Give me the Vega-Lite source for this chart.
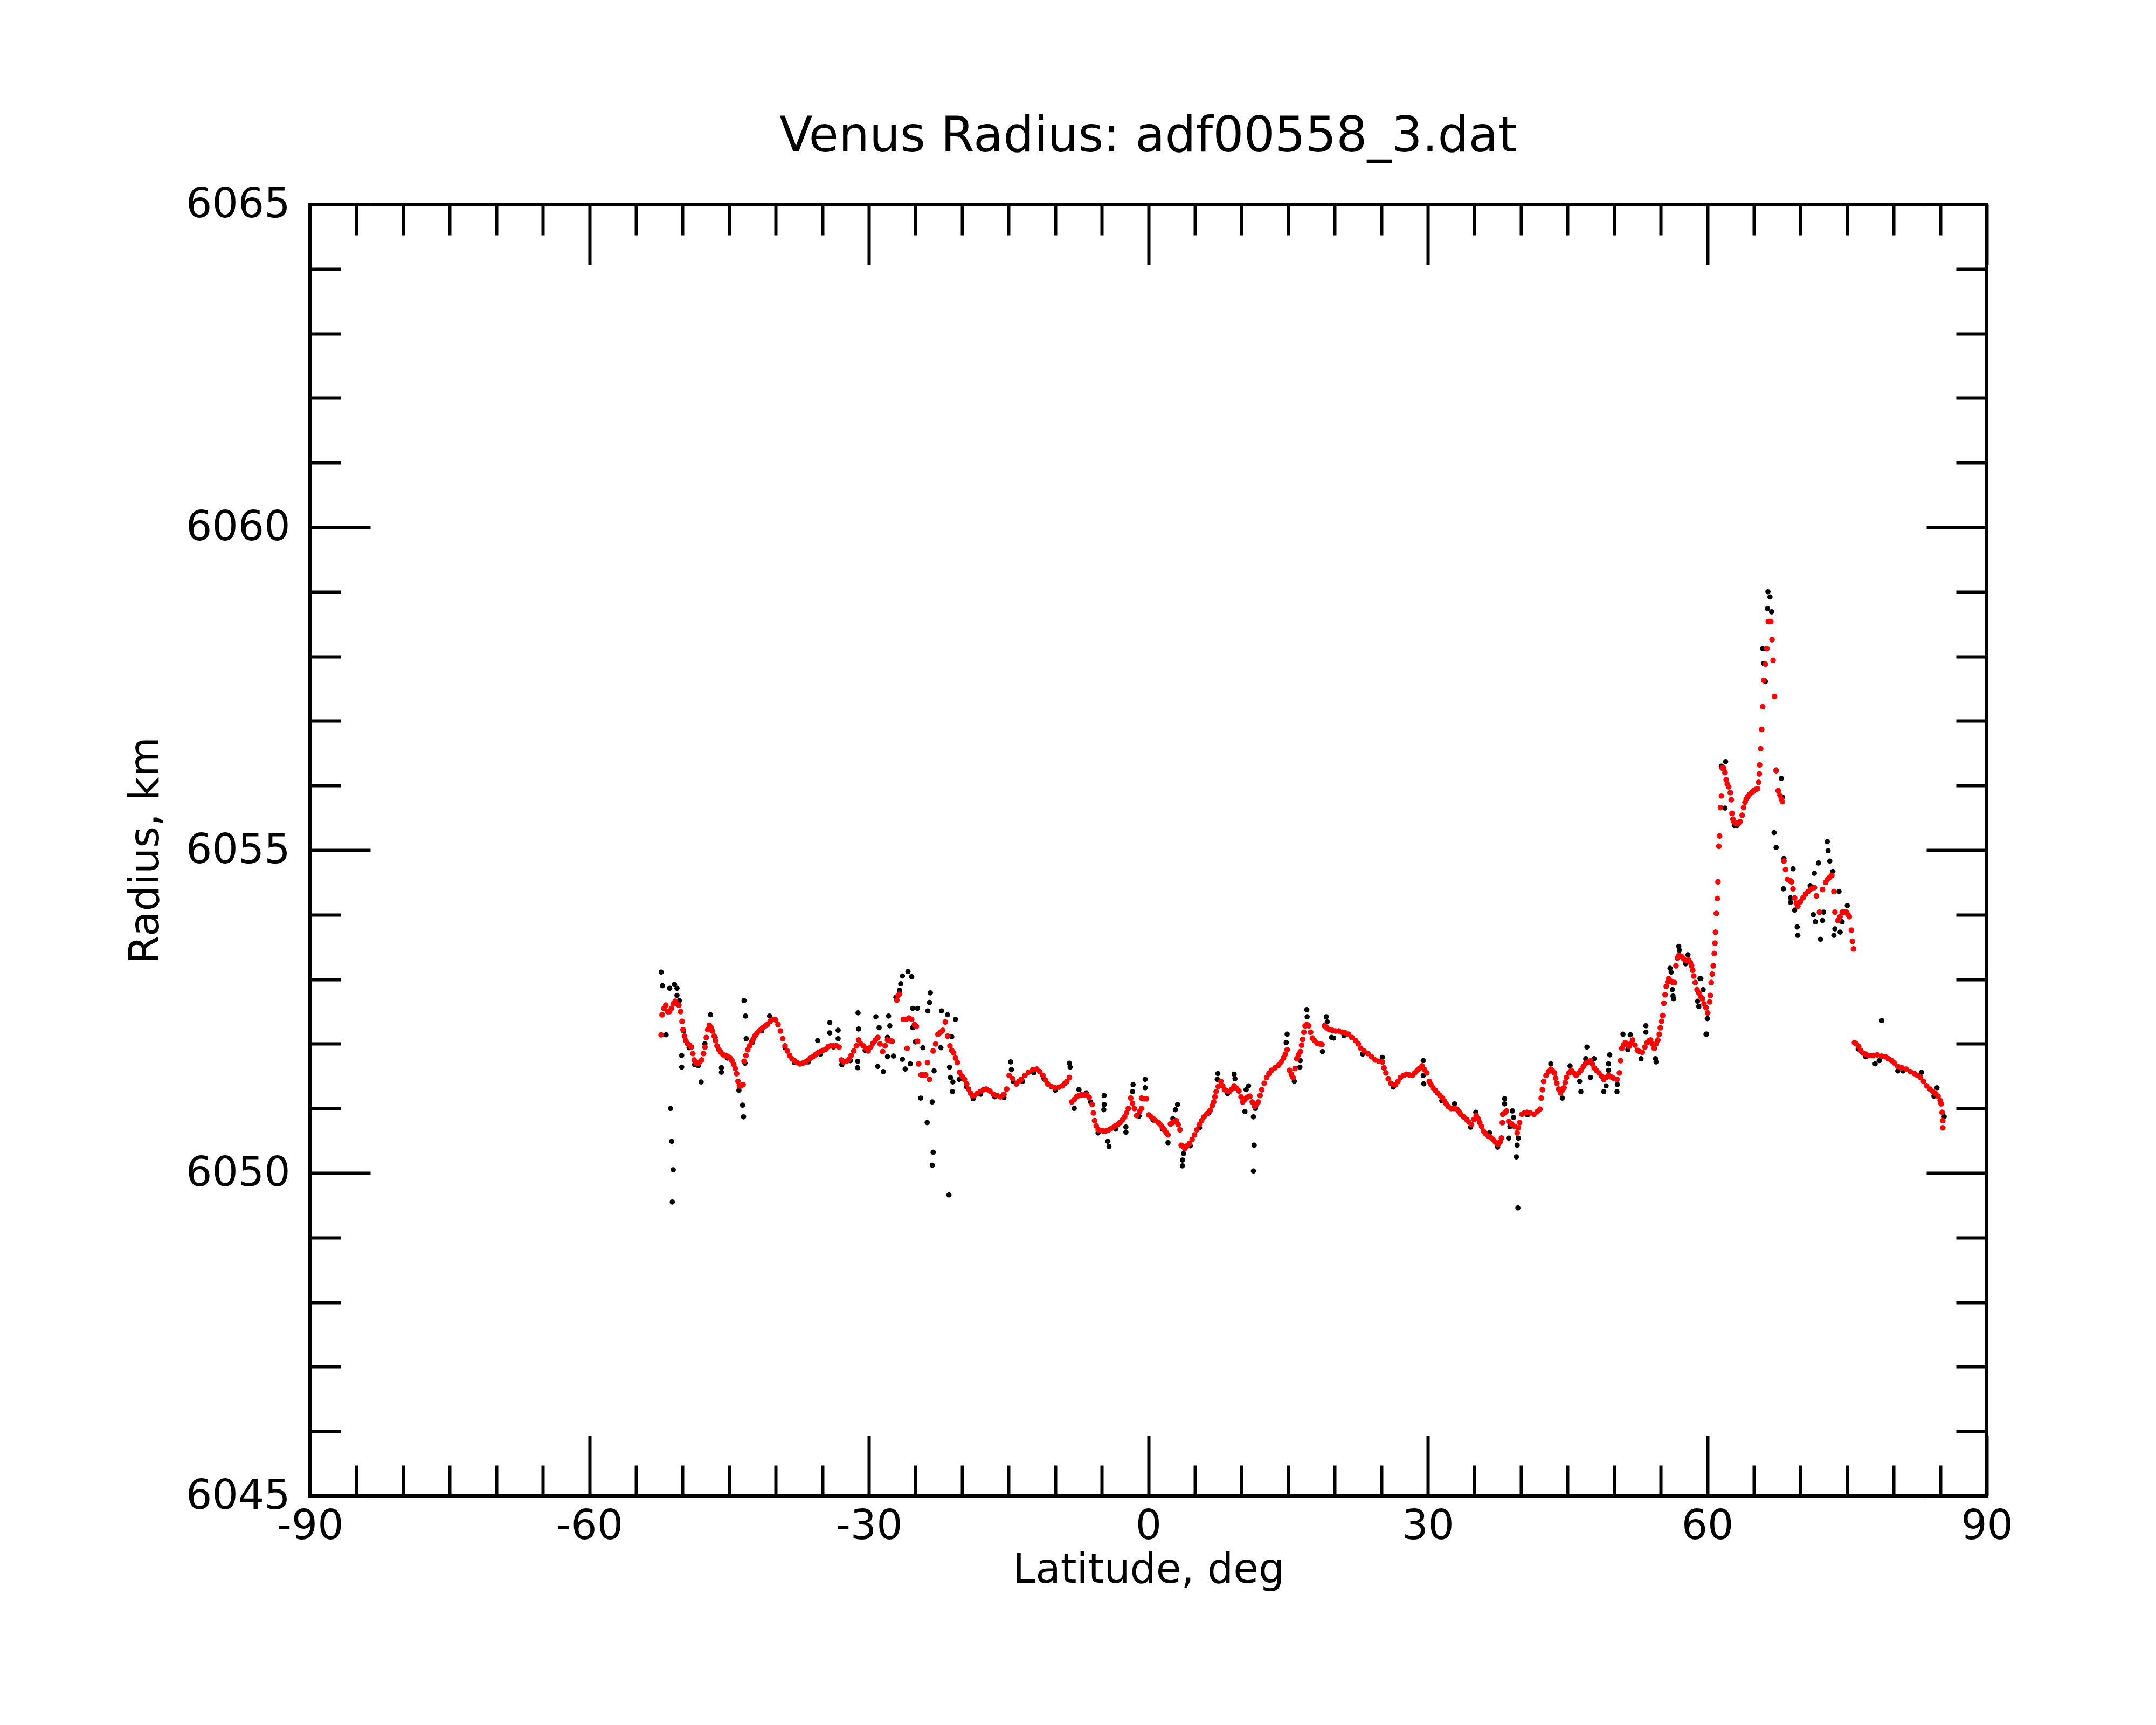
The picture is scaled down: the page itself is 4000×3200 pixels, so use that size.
{
  "$schema": "https://vega.github.io/schema/vega-lite/v6.json",
  "width": 3111,
  "height": 2396,
  "autosize": {"type": "none"},
  "padding": {"left": 575, "top": 379, "right": 314, "bottom": 425},
  "background": "white",
  "title": {
    "text": "Venus Radius: adf00558_3.dat",
    "fontSize": 90,
    "fontWeight": "normal",
    "color": "black",
    "frame": "group",
    "anchor": "middle",
    "baseline": "alphabetic",
    "offset": -30
  },
  "datasets": {
    "raw": [
      {"lat":-52.29,"r":6053.11},{"lat":-52.16,"r":6052.9},{"lat":-51.77,"r":6052.14},{"lat":-51.38,"r":6052.86},
      {"lat":-51.3,"r":6051.0},{"lat":-51.17,"r":6050.49},{"lat":-51.0,"r":6050.05},{"lat":-51.1,"r":6049.55},
      {"lat":-50.87,"r":6052.92},{"lat":-50.6,"r":6052.86},{"lat":-50.6,"r":6052.75},{"lat":-50.35,"r":6052.67},
      {"lat":-50.09,"r":6051.82},{"lat":-50.09,"r":6051.64},{"lat":-49.9,"r":6052.2},{"lat":-49.3,"r":6051.94},
      {"lat":-48.7,"r":6051.68},{"lat":-48.3,"r":6051.66},{"lat":-48.0,"r":6051.41},{"lat":-47.6,"r":6052.0},
      {"lat":-47.0,"r":6052.45},{"lat":-46.5,"r":6052.1},{"lat":-45.83,"r":6051.63},{"lat":-45.83,"r":6051.56},
      {"lat":-45.2,"r":6051.78},{"lat":-43.95,"r":6051.28},{"lat":-43.56,"r":6051.05},{"lat":-43.45,"r":6050.87},
      {"lat":-43.4,"r":6052.67},{"lat":-43.25,"r":6052.43},{"lat":-43.17,"r":6052.08},{"lat":-43.3,"r":6051.7},
      {"lat":-42.5,"r":6052.02},{"lat":-41.5,"r":6052.2},{"lat":-40.66,"r":6052.43},{"lat":-39.0,"r":6051.94},
      {"lat":-38.0,"r":6051.71},{"lat":-36.5,"r":6051.72},{"lat":-35.5,"r":6052.05},{"lat":-35.2,"r":6051.84},
      {"lat":-34.2,"r":6052.33},{"lat":-34.2,"r":6052.17},{"lat":-33.8,"r":6051.95},{"lat":-33.3,"r":6052.21},
      {"lat":-33.3,"r":6052.08},{"lat":-32.9,"r":6051.68},{"lat":-32.0,"r":6051.74},{"lat":-31.16,"r":6052.48},
      {"lat":-31.1,"r":6052.23},{"lat":-31.2,"r":6051.73},{"lat":-31.2,"r":6051.63},{"lat":-30.4,"r":6051.9},
      {"lat":-29.25,"r":6052.42},{"lat":-28.9,"r":6052.25},{"lat":-29.04,"r":6051.65},{"lat":-28.45,"r":6051.57},
      {"lat":-28.0,"r":6052.1},{"lat":-27.88,"r":6052.43},{"lat":-27.75,"r":6052.28},{"lat":-27.36,"r":6051.81},
      {"lat":-28.0,"r":6051.8},{"lat":-27.1,"r":6052.72},{"lat":-26.4,"r":6053.05},{"lat":-25.8,"r":6053.12},
      {"lat":-25.4,"r":6053.04},{"lat":-26.58,"r":6052.93},{"lat":-26.7,"r":6052.83},{"lat":-25.3,"r":6052.55},
      {"lat":-24.78,"r":6052.55},{"lat":-25.3,"r":6052.25},{"lat":-25.0,"r":6052.03},{"lat":-26.4,"r":6051.76},
      {"lat":-26.1,"r":6051.61},{"lat":-25.55,"r":6051.69},{"lat":-24.2,"r":6051.94},{"lat":-24.44,"r":6051.16},
      {"lat":-23.74,"r":6050.78},{"lat":-23.2,"r":6051.1},{"lat":-23.1,"r":6050.32},{"lat":-23.2,"r":6050.12},
      {"lat":-23.4,"r":6052.79},{"lat":-23.49,"r":6052.64},{"lat":-23.67,"r":6052.51},{"lat":-23.0,"r":6051.58},
      {"lat":-22.2,"r":6052.51},{"lat":-21.55,"r":6052.45},{"lat":-20.7,"r":6052.38},{"lat":-21.1,"r":6052.11},
      {"lat":-22.27,"r":6051.94},{"lat":-21.34,"r":6051.64},{"lat":-21.24,"r":6051.48},{"lat":-20.98,"r":6051.41},
      {"lat":-21.03,"r":6051.26},{"lat":-21.4,"r":6049.66},{"lat":-20.3,"r":6051.45},{"lat":-19.5,"r":6051.33},
      {"lat":-18.8,"r":6051.15},{"lat":-18.0,"r":6051.22},{"lat":-16.5,"r":6051.18},{"lat":-15.5,"r":6051.17},
      {"lat":-14.78,"r":6051.72},{"lat":-14.7,"r":6051.6},{"lat":-14.5,"r":6051.42},{"lat":-13.5,"r":6051.42},
      {"lat":-12.3,"r":6051.55},{"lat":-11.2,"r":6051.46},{"lat":-10.0,"r":6051.28},{"lat":-8.48,"r":6051.7},
      {"lat":-8.4,"r":6051.64},{"lat":-7.96,"r":6051.0},{"lat":-7.45,"r":6051.29},{"lat":-6.67,"r":6051.24},
      {"lat":-6.2,"r":6051.1},{"lat":-5.4,"r":6050.62},{"lat":-4.74,"r":6051.2},{"lat":-4.74,"r":6051.06},
      {"lat":-4.78,"r":6050.98},{"lat":-4.35,"r":6050.49},{"lat":-4.22,"r":6050.41},{"lat":-3.5,"r":6050.68},
      {"lat":-2.41,"r":6050.71},{"lat":-2.41,"r":6050.63},{"lat":-1.64,"r":6051.37},{"lat":-1.7,"r":6051.26},
      {"lat":-0.34,"r":6051.45},{"lat":-0.34,"r":6051.32},{"lat":-1.0,"r":6050.88},{"lat":0.5,"r":6050.82},
      {"lat":1.5,"r":6050.68},{"lat":2.11,"r":6050.47},{"lat":2.63,"r":6050.84},{"lat":3.14,"r":6051.06},
      {"lat":2.9,"r":6050.98},{"lat":3.79,"r":6050.3},{"lat":3.66,"r":6050.2},{"lat":3.66,"r":6050.11},
      {"lat":4.5,"r":6050.42},{"lat":5.5,"r":6050.7},{"lat":6.5,"r":6050.93},{"lat":7.46,"r":6051.54},
      {"lat":7.4,"r":6051.45},{"lat":8.5,"r":6051.23},{"lat":9.21,"r":6051.53},{"lat":9.3,"r":6051.46},
      {"lat":10.5,"r":6051.29},{"lat":10.76,"r":6051.35},{"lat":10.37,"r":6050.95},{"lat":11.28,"r":6050.87},
      {"lat":11.36,"r":6050.43},{"lat":11.28,"r":6050.03},{"lat":11.5,"r":6051.0},{"lat":13.0,"r":6051.55},
      {"lat":14.9,"r":6052.15},{"lat":14.8,"r":6052.02},{"lat":15.67,"r":6051.42},{"lat":16.27,"r":6051.64},
      {"lat":16.3,"r":6051.74},{"lat":17.01,"r":6052.53},{"lat":17.05,"r":6052.42},{"lat":19.1,"r":6052.42},
      {"lat":19.2,"r":6052.34},{"lat":18.69,"r":6051.88},{"lat":19.67,"r":6052.1},{"lat":19.9,"r":6052.09},
      {"lat":21.0,"r":6052.13},{"lat":23.0,"r":6051.84},{"lat":25.12,"r":6051.79},{"lat":26.3,"r":6051.33},
      {"lat":29.51,"r":6051.74},{"lat":29.51,"r":6051.51},{"lat":29.57,"r":6051.38},{"lat":31.5,"r":6051.12},
      {"lat":32.87,"r":6051.07},{"lat":34.6,"r":6050.71},{"lat":35.15,"r":6050.94},{"lat":36.62,"r":6050.62},
      {"lat":37.5,"r":6050.4},{"lat":38.24,"r":6051.15},{"lat":38.24,"r":6051.07},{"lat":39.07,"r":6050.96},
      {"lat":39.2,"r":6050.86},{"lat":38.68,"r":6050.54},{"lat":38.81,"r":6050.72},{"lat":39.72,"r":6050.54},
      {"lat":39.59,"r":6050.43},{"lat":39.51,"r":6050.25},{"lat":39.67,"r":6049.46},{"lat":40.7,"r":6050.9},
      {"lat":43.2,"r":6051.69},{"lat":44.44,"r":6051.16},{"lat":45.27,"r":6051.66},{"lat":46.3,"r":6051.42},
      {"lat":46.43,"r":6051.26},{"lat":47.08,"r":6051.95},{"lat":46.95,"r":6051.77},{"lat":47.47,"r":6051.48},
      {"lat":47.85,"r":6051.77},{"lat":48.89,"r":6051.26},{"lat":49.14,"r":6051.35},{"lat":49.53,"r":6051.83},
      {"lat":49.4,"r":6051.69},{"lat":49.4,"r":6051.59},{"lat":50.31,"r":6051.26},{"lat":50.35,"r":6051.37},
      {"lat":50.95,"r":6052.15},{"lat":51.73,"r":6052.14},{"lat":53.41,"r":6052.28},{"lat":53.41,"r":6052.18},
      {"lat":51.47,"r":6051.91},{"lat":52.89,"r":6051.77},{"lat":54.44,"r":6051.77},{"lat":54.5,"r":6051.72},
      {"lat":56.12,"r":6053.11},{"lat":56.0,"r":6053.17},{"lat":56.25,"r":6052.84},{"lat":56.38,"r":6052.7},
      {"lat":56.32,"r":6052.74},{"lat":56.94,"r":6053.51},{"lat":57.93,"r":6053.38},{"lat":57.67,"r":6053.24},
      {"lat":57.0,"r":6053.45},{"lat":59.22,"r":6053.01},{"lat":59.56,"r":6052.84},{"lat":58.96,"r":6052.66},
      {"lat":59.09,"r":6052.58},{"lat":59.31,"r":6053.01},{"lat":60.0,"r":6052.39},{"lat":59.86,"r":6052.15},
      {"lat":59.93,"r":6052.15},{"lat":61.52,"r":6056.3},{"lat":61.97,"r":6056.37},{"lat":61.9,"r":6055.65},
      {"lat":62.9,"r":6055.38},{"lat":63.2,"r":6055.38},{"lat":65.95,"r":6058.12},{"lat":66.51,"r":6059.0},
      {"lat":66.73,"r":6058.92},{"lat":66.46,"r":6058.74},{"lat":66.9,"r":6058.69},{"lat":66.06,"r":6057.89},
      {"lat":66.24,"r":6057.61},{"lat":67.39,"r":6056.24},{"lat":67.95,"r":6056.11},{"lat":68.06,"r":6055.82},
      {"lat":67.17,"r":6055.27},{"lat":67.39,"r":6055.04},{"lat":68.23,"r":6054.87},{"lat":69.21,"r":6054.71},
      {"lat":68.17,"r":6054.4},{"lat":68.94,"r":6054.26},{"lat":68.94,"r":6054.19},{"lat":69.38,"r":6054.07},
      {"lat":69.65,"r":6053.81},{"lat":69.72,"r":6053.68},{"lat":71.04,"r":6054.45},{"lat":71.49,"r":6054.64},
      {"lat":71.93,"r":6054.8},{"lat":71.6,"r":6053.89},{"lat":71.38,"r":6054.0},{"lat":72.15,"r":6053.62},
      {"lat":72.37,"r":6053.91},{"lat":72.48,"r":6054.04},{"lat":72.88,"r":6055.13},{"lat":72.97,"r":6054.99},
      {"lat":73.15,"r":6054.83},{"lat":73.48,"r":6054.67},{"lat":74.14,"r":6054.36},{"lat":73.7,"r":6053.78},
      {"lat":73.59,"r":6053.68},{"lat":74.26,"r":6053.73},{"lat":74.48,"r":6053.89},{"lat":75.03,"r":6054.14},
      {"lat":76.2,"r":6051.92},{"lat":77.0,"r":6051.8},{"lat":78.73,"r":6052.36},{"lat":78.02,"r":6051.69},
      {"lat":78.46,"r":6051.74},{"lat":80.45,"r":6051.58},{"lat":81.01,"r":6051.58},{"lat":83.0,"r":6051.56},
      {"lat":84.33,"r":6051.19},{"lat":84.66,"r":6051.32},{"lat":85.43,"r":6050.87}
    ],
    "fit": [
      {"lat":-52.3,"r":6052.14},{"lat":-52.2,"r":6052.45},{"lat":-52.0,"r":6052.55},{"lat":-51.8,"r":6052.6},
      {"lat":-51.6,"r":6052.5},{"lat":-51.4,"r":6052.5},{"lat":-51.2,"r":6052.55},{"lat":-51.0,"r":6052.62},
      {"lat":-50.8,"r":6052.66},{"lat":-50.6,"r":6052.62},{"lat":-50.4,"r":6052.6},{"lat":-50.2,"r":6052.5},
      {"lat":-50.05,"r":6052.35},{"lat":-49.95,"r":6052.22},{"lat":-49.8,"r":6052.12},{"lat":-49.65,"r":6052.05},
      {"lat":-49.45,"r":6052.0},{"lat":-49.25,"r":6051.98},{"lat":-49.05,"r":6051.95},{"lat":-48.9,"r":6051.85},
      {"lat":-48.75,"r":6051.75},{"lat":-48.55,"r":6051.7},{"lat":-48.35,"r":6051.7},{"lat":-48.15,"r":6051.72},
      {"lat":-47.95,"r":6051.75},{"lat":-47.75,"r":6051.85},{"lat":-47.6,"r":6051.95},{"lat":-47.45,"r":6052.1},
      {"lat":-47.3,"r":6052.22},{"lat":-47.12,"r":6052.29},{"lat":-46.95,"r":6052.25},{"lat":-46.8,"r":6052.2},
      {"lat":-46.6,"r":6052.12},{"lat":-46.45,"r":6052.05},{"lat":-46.3,"r":6051.97},{"lat":-46.1,"r":6051.91},
      {"lat":-45.9,"r":6051.87},{"lat":-45.7,"r":6051.84},{"lat":-45.5,"r":6051.82},{"lat":-45.3,"r":6051.82},
      {"lat":-45.1,"r":6051.8},{"lat":-44.9,"r":6051.78},{"lat":-44.7,"r":6051.74},{"lat":-44.5,"r":6051.68},
      {"lat":-44.35,"r":6051.62},{"lat":-44.2,"r":6051.54},{"lat":-44.05,"r":6051.42},{"lat":-43.9,"r":6051.35},
      {"lat":-43.7,"r":6051.35},{"lat":-43.5,"r":6051.37},{"lat":-43.4,"r":6051.73},{"lat":-43.2,"r":6051.82},
      {"lat":-43.0,"r":6051.91},{"lat":-42.8,"r":6051.97},{"lat":-42.6,"r":6052.03},{"lat":-42.4,"r":6052.08},
      {"lat":-42.2,"r":6052.13},{"lat":-42.0,"r":6052.17},{"lat":-41.7,"r":6052.21},{"lat":-41.4,"r":6052.25},
      {"lat":-41.1,"r":6052.28},{"lat":-40.9,"r":6052.3},{"lat":-40.6,"r":6052.35},{"lat":-40.3,"r":6052.38},
      {"lat":-40.0,"r":6052.37},{"lat":-39.75,"r":6052.3},{"lat":-39.5,"r":6052.2},{"lat":-39.25,"r":6052.08},
      {"lat":-39.0,"r":6051.97},{"lat":-38.75,"r":6051.89},{"lat":-38.5,"r":6051.82},{"lat":-38.25,"r":6051.77},
      {"lat":-38.0,"r":6051.74},{"lat":-37.7,"r":6051.71},{"lat":-37.4,"r":6051.69},{"lat":-37.1,"r":6051.7},
      {"lat":-36.8,"r":6051.72},{"lat":-36.5,"r":6051.75},{"lat":-36.25,"r":6051.78},{"lat":-36.0,"r":6051.8},
      {"lat":-35.75,"r":6051.83},{"lat":-35.5,"r":6051.86},{"lat":-35.2,"r":6051.88},{"lat":-34.9,"r":6051.9},
      {"lat":-34.6,"r":6051.92},{"lat":-34.35,"r":6051.96},{"lat":-34.1,"r":6051.97},{"lat":-33.8,"r":6051.97},
      {"lat":-33.5,"r":6051.97},{"lat":-33.2,"r":6051.95},{"lat":-32.95,"r":6051.75},{"lat":-32.7,"r":6051.72},
      {"lat":-32.4,"r":6051.73},{"lat":-32.14,"r":6051.76},{"lat":-31.9,"r":6051.82},{"lat":-31.62,"r":6051.89},
      {"lat":-31.35,"r":6051.97},{"lat":-31.1,"r":6052.06},{"lat":-30.85,"r":6052.0},{"lat":-30.59,"r":6051.97},
      {"lat":-30.33,"r":6051.93},{"lat":-30.07,"r":6051.89},{"lat":-29.8,"r":6051.95},{"lat":-29.56,"r":6052.01},
      {"lat":-29.3,"r":6052.06},{"lat":-29.04,"r":6052.1},{"lat":-28.8,"r":6052.0},{"lat":-28.52,"r":6051.88},
      {"lat":-28.25,"r":6051.97},{"lat":-28.0,"r":6052.06},{"lat":-27.75,"r":6052.05},{"lat":-27.49,"r":6052.04},
      {"lat":-27.0,"r":6052.68},{"lat":-26.85,"r":6052.75},{"lat":-26.7,"r":6052.77},{"lat":-26.3,"r":6052.38},
      {"lat":-26.0,"r":6052.38},{"lat":-25.7,"r":6052.4},{"lat":-25.4,"r":6052.38},{"lat":-25.9,"r":6051.93},
      {"lat":-25.1,"r":6052.3},{"lat":-24.9,"r":6052.27},{"lat":-24.78,"r":6052.04},{"lat":-24.65,"r":6051.69},
      {"lat":-24.4,"r":6051.52},{"lat":-24.15,"r":6051.52},{"lat":-23.9,"r":6051.52},{"lat":-23.7,"r":6051.71},
      {"lat":-23.5,"r":6051.45},{"lat":-23.1,"r":6051.89},{"lat":-22.84,"r":6052.0},{"lat":-22.58,"r":6052.15},
      {"lat":-22.3,"r":6052.18},{"lat":-22.07,"r":6052.21},{"lat":-21.8,"r":6052.34},{"lat":-21.55,"r":6052.12},
      {"lat":-21.3,"r":6051.97},{"lat":-21.1,"r":6051.9},{"lat":-20.9,"r":6051.86},{"lat":-20.7,"r":6051.78},
      {"lat":-20.5,"r":6051.71},{"lat":-20.26,"r":6051.56},{"lat":-20.0,"r":6051.5},{"lat":-19.74,"r":6051.45},
      {"lat":-19.5,"r":6051.38},{"lat":-19.3,"r":6051.3},{"lat":-19.1,"r":6051.24},{"lat":-18.9,"r":6051.2},
      {"lat":-18.7,"r":6051.2},{"lat":-18.4,"r":6051.23},{"lat":-18.06,"r":6051.26},{"lat":-17.7,"r":6051.29},
      {"lat":-17.4,"r":6051.3},{"lat":-17.0,"r":6051.27},{"lat":-16.64,"r":6051.22},{"lat":-16.25,"r":6051.2},
      {"lat":-15.87,"r":6051.18},{"lat":-15.5,"r":6051.22},{"lat":-15.2,"r":6051.3},{"lat":-14.94,"r":6051.51},
      {"lat":-14.55,"r":6051.46},{"lat":-14.16,"r":6051.38},{"lat":-13.9,"r":6051.42},{"lat":-13.65,"r":6051.45},
      {"lat":-13.25,"r":6051.51},{"lat":-12.87,"r":6051.56},{"lat":-12.4,"r":6051.6},{"lat":-11.97,"r":6051.61},
      {"lat":-11.65,"r":6051.57},{"lat":-11.32,"r":6051.51},{"lat":-11.05,"r":6051.44},{"lat":-10.8,"r":6051.38},
      {"lat":-10.4,"r":6051.34},{"lat":-10.03,"r":6051.32},{"lat":-9.6,"r":6051.33},{"lat":-9.25,"r":6051.35},
      {"lat":-8.95,"r":6051.39},{"lat":-8.74,"r":6051.42},{"lat":-8.48,"r":6051.48},{"lat":-8.22,"r":6051.1},
      {"lat":-7.95,"r":6051.14},{"lat":-7.71,"r":6051.18},{"lat":-7.45,"r":6051.2},{"lat":-7.2,"r":6051.21},
      {"lat":-6.9,"r":6051.21},{"lat":-6.6,"r":6051.21},{"lat":-6.35,"r":6051.17},{"lat":-6.03,"r":6051.06},
      {"lat":-5.9,"r":6050.93},{"lat":-5.77,"r":6050.81},{"lat":-5.6,"r":6050.73},{"lat":-5.38,"r":6050.67},
      {"lat":-5.1,"r":6050.66},{"lat":-4.85,"r":6050.65},{"lat":-4.6,"r":6050.65},{"lat":-4.35,"r":6050.66},
      {"lat":-4.1,"r":6050.68},{"lat":-3.83,"r":6050.7},{"lat":-3.55,"r":6050.73},{"lat":-3.3,"r":6050.75},
      {"lat":-3.05,"r":6050.78},{"lat":-2.8,"r":6050.82},{"lat":-2.54,"r":6050.87},{"lat":-2.35,"r":6050.93},
      {"lat":-2.15,"r":6051.0},{"lat":-1.89,"r":6051.16},{"lat":-1.7,"r":6051.08},{"lat":-1.5,"r":6051.0},
      {"lat":-1.25,"r":6050.89},{"lat":-0.95,"r":6050.95},{"lat":-0.73,"r":6051.0},{"lat":-0.73,"r":6051.16},
      {"lat":-0.45,"r":6051.15},{"lat":-0.21,"r":6051.15},{"lat":0.05,"r":6050.9},{"lat":0.3,"r":6050.87},
      {"lat":0.55,"r":6050.84},{"lat":0.8,"r":6050.81},{"lat":1.08,"r":6050.78},{"lat":1.35,"r":6050.74},
      {"lat":1.55,"r":6050.7},{"lat":1.72,"r":6050.67},{"lat":1.9,"r":6050.63},{"lat":2.11,"r":6050.59},
      {"lat":2.37,"r":6050.76},{"lat":2.6,"r":6050.78},{"lat":2.8,"r":6050.8},{"lat":3.02,"r":6050.81},
      {"lat":3.2,"r":6050.75},{"lat":3.4,"r":6050.67},{"lat":3.53,"r":6050.43},{"lat":3.72,"r":6050.41},
      {"lat":3.92,"r":6050.38},{"lat":4.15,"r":6050.42},{"lat":4.43,"r":6050.46},{"lat":4.7,"r":6050.52},
      {"lat":4.95,"r":6050.59},{"lat":5.2,"r":6050.67},{"lat":5.47,"r":6050.75},{"lat":5.72,"r":6050.81},
      {"lat":5.98,"r":6050.87},{"lat":6.3,"r":6050.92},{"lat":6.63,"r":6050.97},{"lat":6.85,"r":6051.04},
      {"lat":7.02,"r":6051.1},{"lat":7.15,"r":6051.18},{"lat":7.28,"r":6051.26},{"lat":7.5,"r":6051.34},
      {"lat":7.79,"r":6051.42},{"lat":7.98,"r":6051.35},{"lat":8.18,"r":6051.29},{"lat":8.45,"r":6051.27},
      {"lat":8.7,"r":6051.26},{"lat":8.95,"r":6051.3},{"lat":9.21,"r":6051.35},{"lat":9.47,"r":6051.31},
      {"lat":9.73,"r":6051.27},{"lat":9.95,"r":6051.18},{"lat":10.12,"r":6051.1},{"lat":10.3,"r":6051.13},
      {"lat":10.5,"r":6051.16},{"lat":10.7,"r":6051.18},{"lat":10.89,"r":6051.19},{"lat":11.15,"r":6051.1},
      {"lat":11.41,"r":6051.03},{"lat":11.6,"r":6051.06},{"lat":11.8,"r":6051.1},{"lat":12.0,"r":6051.2},
      {"lat":12.18,"r":6051.29},{"lat":12.45,"r":6051.39},{"lat":12.7,"r":6051.48},{"lat":12.95,"r":6051.54},
      {"lat":13.22,"r":6051.59},{"lat":13.6,"r":6051.63},{"lat":13.99,"r":6051.67},{"lat":14.25,"r":6051.72},
      {"lat":14.51,"r":6051.78},{"lat":14.7,"r":6051.84},{"lat":14.9,"r":6051.91},{"lat":15.16,"r":6051.59},
      {"lat":15.35,"r":6051.53},{"lat":15.54,"r":6051.48},{"lat":15.75,"r":6051.62},{"lat":15.93,"r":6051.77},
      {"lat":16.12,"r":6051.83},{"lat":16.32,"r":6051.88},{"lat":16.45,"r":6051.98},{"lat":16.57,"r":6052.07},
      {"lat":16.7,"r":6052.18},{"lat":16.83,"r":6052.28},{"lat":17.0,"r":6052.3},{"lat":17.22,"r":6052.28},
      {"lat":17.42,"r":6052.18},{"lat":17.61,"r":6052.09},{"lat":17.85,"r":6052.05},{"lat":18.12,"r":6052.01},
      {"lat":18.4,"r":6052.0},{"lat":18.64,"r":6051.99},{"lat":18.9,"r":6052.28},{"lat":19.15,"r":6052.25},
      {"lat":19.42,"r":6052.22},{"lat":19.75,"r":6052.21},{"lat":20.1,"r":6052.2},{"lat":20.45,"r":6052.2},
      {"lat":20.8,"r":6052.18},{"lat":21.15,"r":6052.17},{"lat":21.48,"r":6052.15},{"lat":21.85,"r":6052.1},
      {"lat":22.26,"r":6052.05},{"lat":22.54,"r":6052.0},{"lat":22.8,"r":6051.93},{"lat":23.15,"r":6051.89},
      {"lat":23.57,"r":6051.85},{"lat":23.95,"r":6051.8},{"lat":24.35,"r":6051.75},{"lat":24.75,"r":6051.73},
      {"lat":25.12,"r":6051.72},{"lat":25.3,"r":6051.63},{"lat":25.51,"r":6051.55},{"lat":25.75,"r":6051.46},
      {"lat":26.03,"r":6051.39},{"lat":26.3,"r":6051.37},{"lat":26.54,"r":6051.37},{"lat":26.8,"r":6051.42},
      {"lat":27.06,"r":6051.48},{"lat":27.4,"r":6051.51},{"lat":27.7,"r":6051.53},{"lat":28.0,"r":6051.52},
      {"lat":28.35,"r":6051.51},{"lat":28.6,"r":6051.55},{"lat":28.87,"r":6051.59},{"lat":29.1,"r":6051.62},
      {"lat":29.38,"r":6051.66},{"lat":29.65,"r":6051.6},{"lat":29.9,"r":6051.55},{"lat":30.16,"r":6051.42},
      {"lat":30.35,"r":6051.37},{"lat":30.55,"r":6051.32},{"lat":30.8,"r":6051.28},{"lat":31.06,"r":6051.24},
      {"lat":31.3,"r":6051.2},{"lat":31.58,"r":6051.16},{"lat":31.8,"r":6051.11},{"lat":31.97,"r":6051.07},
      {"lat":32.2,"r":6051.03},{"lat":32.48,"r":6051.0},{"lat":32.8,"r":6051.0},{"lat":33.13,"r":6050.99},
      {"lat":33.35,"r":6050.95},{"lat":33.52,"r":6050.91},{"lat":33.85,"r":6050.87},{"lat":34.16,"r":6050.83},
      {"lat":34.4,"r":6050.79},{"lat":34.68,"r":6050.75},{"lat":34.95,"r":6050.83},{"lat":35.2,"r":6050.89},
      {"lat":35.4,"r":6050.84},{"lat":35.58,"r":6050.78},{"lat":35.78,"r":6050.72},{"lat":35.97,"r":6050.65},
      {"lat":36.2,"r":6050.61},{"lat":36.49,"r":6050.57},{"lat":36.75,"r":6050.55},{"lat":37.0,"r":6050.52},
      {"lat":37.25,"r":6050.48},{"lat":37.52,"r":6050.44},{"lat":37.75,"r":6050.48},{"lat":37.91,"r":6050.54},
      {"lat":38.0,"r":6050.78},{"lat":38.04,"r":6050.91},{"lat":38.25,"r":6050.93},{"lat":38.43,"r":6050.96},
      {"lat":38.68,"r":6050.8},{"lat":39.0,"r":6050.76},{"lat":39.33,"r":6050.72},{"lat":39.59,"r":6050.62},
      {"lat":39.72,"r":6050.7},{"lat":39.85,"r":6050.78},{"lat":40.1,"r":6050.91},{"lat":40.35,"r":6050.93},
      {"lat":40.62,"r":6050.94},{"lat":41.0,"r":6050.93},{"lat":41.4,"r":6050.91},{"lat":41.75,"r":6050.95},
      {"lat":42.04,"r":6050.99},{"lat":42.17,"r":6051.16},{"lat":42.3,"r":6051.29},{"lat":42.43,"r":6051.42},
      {"lat":42.69,"r":6051.51},{"lat":42.95,"r":6051.57},{"lat":43.2,"r":6051.61},{"lat":43.4,"r":6051.58},
      {"lat":43.59,"r":6051.55},{"lat":43.72,"r":6051.47},{"lat":43.85,"r":6051.39},{"lat":44.05,"r":6051.3},
      {"lat":44.24,"r":6051.24},{"lat":44.45,"r":6051.28},{"lat":44.62,"r":6051.32},{"lat":44.75,"r":6051.4},
      {"lat":44.88,"r":6051.48},{"lat":45.15,"r":6051.55},{"lat":45.4,"r":6051.59},{"lat":45.65,"r":6051.55},
      {"lat":45.92,"r":6051.51},{"lat":46.2,"r":6051.55},{"lat":46.43,"r":6051.59},{"lat":46.7,"r":6051.65},
      {"lat":46.95,"r":6051.7},{"lat":47.2,"r":6051.72},{"lat":47.47,"r":6051.74},{"lat":47.65,"r":6051.69},
      {"lat":47.85,"r":6051.63},{"lat":48.1,"r":6051.59},{"lat":48.37,"r":6051.55},{"lat":48.65,"r":6051.5},
      {"lat":48.89,"r":6051.45},{"lat":49.15,"r":6051.48},{"lat":49.4,"r":6051.51},{"lat":49.65,"r":6051.49},
      {"lat":49.92,"r":6051.47},{"lat":50.31,"r":6051.45},{"lat":50.57,"r":6051.55},{"lat":50.7,"r":6051.74},
      {"lat":50.82,"r":6051.93},{"lat":51.0,"r":6051.98},{"lat":51.21,"r":6052.02},{"lat":51.4,"r":6051.99},
      {"lat":51.6,"r":6051.96},{"lat":51.8,"r":6052.01},{"lat":51.99,"r":6052.06},{"lat":52.25,"r":6051.98},
      {"lat":52.5,"r":6051.9},{"lat":52.75,"r":6051.88},{"lat":53.02,"r":6051.87},{"lat":53.3,"r":6051.95},
      {"lat":53.54,"r":6052.02},{"lat":53.75,"r":6052.05},{"lat":53.92,"r":6052.06},{"lat":54.1,"r":6052.0},
      {"lat":54.31,"r":6051.93},{"lat":54.5,"r":6052.0},{"lat":54.7,"r":6052.06},{"lat":54.85,"r":6052.15},
      {"lat":54.96,"r":6052.25},{"lat":55.1,"r":6052.35},{"lat":55.21,"r":6052.44},{"lat":55.34,"r":6052.63},
      {"lat":55.47,"r":6052.76},{"lat":55.6,"r":6052.89},{"lat":55.75,"r":6052.96},{"lat":55.86,"r":6053.01},
      {"lat":56.1,"r":6052.97},{"lat":56.3,"r":6052.95},{"lat":56.5,"r":6052.95},{"lat":56.64,"r":6053.21},
      {"lat":56.8,"r":6053.33},{"lat":56.95,"r":6053.37},{"lat":57.1,"r":6053.36},{"lat":57.28,"r":6053.35},
      {"lat":57.45,"r":6053.32},{"lat":57.67,"r":6053.29},{"lat":57.98,"r":6053.3},{"lat":58.18,"r":6053.26},
      {"lat":58.31,"r":6053.21},{"lat":58.44,"r":6053.14},{"lat":58.55,"r":6053.05},{"lat":58.7,"r":6052.95},
      {"lat":58.9,"r":6052.84},{"lat":59.09,"r":6052.79},{"lat":59.3,"r":6052.73},{"lat":59.48,"r":6052.7},
      {"lat":59.65,"r":6052.62},{"lat":59.86,"r":6052.56},{"lat":60.05,"r":6052.48},{"lat":60.25,"r":6052.65},
      {"lat":60.32,"r":6052.75},{"lat":60.42,"r":6052.95},{"lat":60.53,"r":6053.08},{"lat":60.64,"r":6053.21},
      {"lat":60.75,"r":6053.4},{"lat":60.82,"r":6053.56},{"lat":60.88,"r":6053.73},{"lat":60.97,"r":6054.02},
      {"lat":61.08,"r":6054.25},{"lat":61.15,"r":6054.51},{"lat":61.24,"r":6055.06},{"lat":61.32,"r":6055.22},
      {"lat":61.41,"r":6055.66},{"lat":61.52,"r":6055.84},{"lat":61.6,"r":6056.27},{"lat":61.75,"r":6056.27},
      {"lat":61.9,"r":6056.2},{"lat":62.03,"r":6056.09},{"lat":62.15,"r":6056.02},{"lat":62.3,"r":6055.98},
      {"lat":62.48,"r":6055.89},{"lat":62.57,"r":6055.78},{"lat":62.65,"r":6055.57},{"lat":62.75,"r":6055.48},
      {"lat":62.85,"r":6055.44},{"lat":63.0,"r":6055.42},{"lat":63.18,"r":6055.41},{"lat":63.35,"r":6055.42},
      {"lat":63.52,"r":6055.44},{"lat":63.74,"r":6055.54},{"lat":63.89,"r":6055.66},{"lat":64.05,"r":6055.74},
      {"lat":64.18,"r":6055.79},{"lat":64.35,"r":6055.83},{"lat":64.51,"r":6055.86},{"lat":64.75,"r":6055.89},
      {"lat":64.96,"r":6055.92},{"lat":65.2,"r":6055.94},{"lat":65.4,"r":6055.95},{"lat":65.51,"r":6056.05},
      {"lat":65.58,"r":6056.18},{"lat":65.62,"r":6056.32},{"lat":65.73,"r":6056.57},{"lat":65.84,"r":6056.87},
      {"lat":65.95,"r":6057.22},{"lat":66.06,"r":6057.63},{"lat":66.24,"r":6057.88},{"lat":66.4,"r":6058.12},
      {"lat":66.55,"r":6058.54},{"lat":66.7,"r":6058.54},{"lat":66.82,"r":6058.54},{"lat":66.95,"r":6058.26},
      {"lat":67.06,"r":6057.94},{"lat":67.21,"r":6057.38},{"lat":67.39,"r":6056.23},{"lat":67.61,"r":6055.92},
      {"lat":67.8,"r":6055.85},{"lat":67.95,"r":6055.79},{"lat":68.06,"r":6055.75},{"lat":68.23,"r":6054.83},
      {"lat":68.4,"r":6054.7},{"lat":68.61,"r":6054.55},{"lat":68.85,"r":6054.53},{"lat":69.05,"r":6054.51},
      {"lat":69.2,"r":6054.4},{"lat":69.38,"r":6054.26},{"lat":69.55,"r":6054.18},{"lat":69.72,"r":6054.13},
      {"lat":70.0,"r":6054.2},{"lat":70.27,"r":6054.26},{"lat":70.55,"r":6054.32},{"lat":70.82,"r":6054.36},
      {"lat":71.15,"r":6054.4},{"lat":71.49,"r":6054.42},{"lat":71.71,"r":6054.29},{"lat":72.04,"r":6054.04},
      {"lat":72.37,"r":6054.39},{"lat":72.7,"r":6054.5},{"lat":72.93,"r":6054.55},{"lat":73.15,"r":6054.58},
      {"lat":73.37,"r":6054.61},{"lat":73.59,"r":6054.36},{"lat":73.7,"r":6054.04},{"lat":74.03,"r":6053.91},
      {"lat":74.25,"r":6053.97},{"lat":74.48,"r":6054.04},{"lat":74.7,"r":6054.04},{"lat":74.92,"r":6054.04},
      {"lat":75.1,"r":6054.0},{"lat":75.25,"r":6053.97},{"lat":75.47,"r":6053.76},{"lat":75.58,"r":6053.59},
      {"lat":75.69,"r":6053.47},{"lat":75.8,"r":6052.02},{"lat":76.0,"r":6052.0},{"lat":76.25,"r":6051.96},
      {"lat":76.45,"r":6051.9},{"lat":76.69,"r":6051.86},{"lat":77.0,"r":6051.84},{"lat":77.35,"r":6051.82},
      {"lat":77.8,"r":6051.82},{"lat":78.24,"r":6051.83},{"lat":78.7,"r":6051.81},{"lat":79.12,"r":6051.8},
      {"lat":79.45,"r":6051.77},{"lat":79.79,"r":6051.74},{"lat":80.1,"r":6051.7},{"lat":80.45,"r":6051.65},
      {"lat":80.9,"r":6051.63},{"lat":81.34,"r":6051.61},{"lat":81.8,"r":6051.57},{"lat":82.23,"r":6051.54},
      {"lat":82.55,"r":6051.51},{"lat":82.89,"r":6051.48},{"lat":83.2,"r":6051.42},{"lat":83.55,"r":6051.35},
      {"lat":83.9,"r":6051.3},{"lat":84.22,"r":6051.26},{"lat":84.5,"r":6051.23},{"lat":84.77,"r":6051.19},
      {"lat":85.0,"r":6051.12},{"lat":85.1,"r":6051.07},{"lat":85.21,"r":6050.94},{"lat":85.28,"r":6050.81},
      {"lat":85.28,"r":6050.7}
    ]
  },
  "layer": [
    {
      "data": {"name": "raw"},
      "mark": {"type": "circle", "color": "black", "size": 95, "opacity": 1},
      "encoding": {
        "x": {
          "field": "lat",
          "type": "quantitative",
          "scale": {"domain": [-90, 90], "nice": false, "zero": false},
          "axis": {
            "orient": "bottom",
            "values": [-90,-85,-80,-75,-70,-65,-60,-55,-50,-45,-40,-35,-30,-25,-20,-15,-10,-5,0,5,10,15,20,25,30,35,40,45,50,55,60,65,70,75,80,85,90],
            "tickSize": {"condition": {"test": "datum.value % 30 === 0", "value": -112}, "value": -57},
            "labelExpr": "datum.value % 30 === 0 ? '' + datum.value : ''",
            "labelPadding": 131,
            "labelBaseline": "top",
            "title": "Latitude, deg",
            "titleX": 1555.5,
            "titleY": 160,
            "titleAlign": "center",
            "titleBaseline": "alphabetic",
            "titleAngle": 0
          }
        },
        "y": {
          "field": "r",
          "type": "quantitative",
          "scale": {"domain": [6045, 6065], "nice": false, "zero": false},
          "axis": {
            "orient": "left",
            "values": [6045,6046,6047,6048,6049,6050,6051,6052,6053,6054,6055,6056,6057,6058,6059,6060,6061,6062,6063,6064,6065],
            "tickSize": {"condition": {"test": "datum.value % 5 === 0", "value": -112}, "value": -57},
            "labelExpr": "datum.value % 5 === 0 ? '' + datum.value : ''",
            "labelPadding": 149,
            "labelAlign": "right",
            "labelBaseline": "middle",
            "title": "Radius, km",
            "titleX": -282,
            "titleY": 1198,
            "titleAlign": "center",
            "titleBaseline": "alphabetic",
            "titleAngle": 270
          }
        }
      }
    },
    {
      "data": {"name": "fit"},
      "mark": {"type": "circle", "color": "#ff0000", "size": 110, "opacity": 1},
      "encoding": {
        "x": {
          "field": "lat",
          "type": "quantitative",
          "axis": {
            "orient": "top",
            "values": [-90,-85,-80,-75,-70,-65,-60,-55,-50,-45,-40,-35,-30,-25,-20,-15,-10,-5,0,5,10,15,20,25,30,35,40,45,50,55,60,65,70,75,80,85,90],
            "tickSize": {"condition": {"test": "datum.value % 30 === 0", "value": -112}, "value": -57},
            "labels": false,
            "title": null
          }
        },
        "y": {
          "field": "r",
          "type": "quantitative",
          "axis": {
            "orient": "right",
            "values": [6045,6046,6047,6048,6049,6050,6051,6052,6053,6054,6055,6056,6057,6058,6059,6060,6061,6062,6063,6064,6065],
            "tickSize": {"condition": {"test": "datum.value % 5 === 0", "value": -112}, "value": -57},
            "labels": false,
            "title": null
          }
        }
      }
    }
  ],
  "resolve": {"axis": {"x": "independent", "y": "independent"}},
  "config": {
    "font": "DejaVu Sans",
    "view": {"stroke": "black", "strokeWidth": 6},
    "axis": {
      "domain": false,
      "grid": false,
      "ticks": true,
      "tickColor": "black",
      "tickWidth": 6,
      "labelColor": "black",
      "labelFont": "DejaVu Sans",
      "labelFontSize": 76,
      "labelFlush": false,
      "labelOverlap": false,
      "labelBound": false,
      "labelLimit": 2000,
      "titleColor": "black",
      "titleFont": "DejaVu Sans",
      "titleFontSize": 76,
      "titleFontWeight": "normal"
    }
  }
}
